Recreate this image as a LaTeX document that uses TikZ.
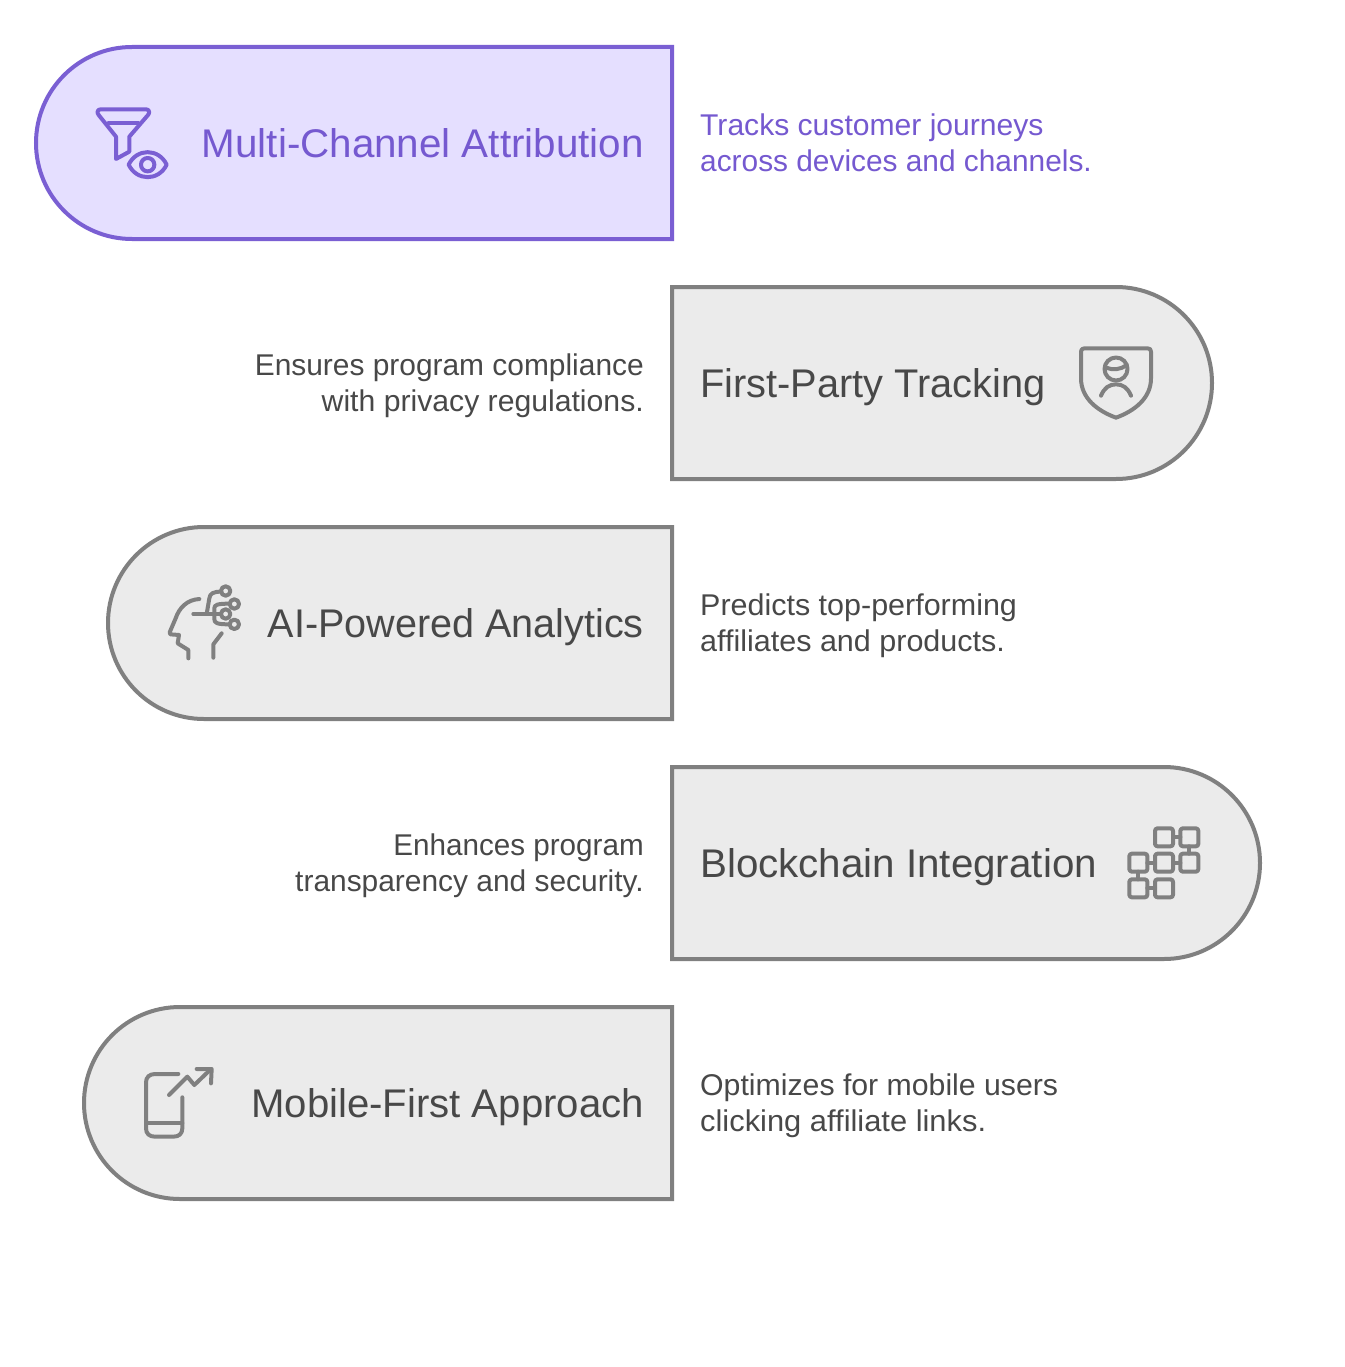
\documentclass[tikz,border=0pt]{standalone}
\usepackage{graphicx}
\usepackage{fontspec}
\setmainfont{Liberation Sans}
\newcommand{\sxx}[2]{\scalebox{#1}[1]{#2}}
\definecolor{purp}{HTML}{7A5FD3}
\definecolor{purpfill}{HTML}{E5DFFF}
\definecolor{gline}{HTML}{808080}
\definecolor{gfill}{HTML}{EBEBEB}
\definecolor{gtext}{HTML}{484848}
\definecolor{ptext}{HTML}{7559D0}
\tikzset{
  x=1pt,y=-1pt,
  pill/.style={line width=4pt,draw=gline,fill=gfill},
  pillp/.style={line width=4pt,draw=purp,fill=purpfill},
  title/.style={font=\fontsize{40}{44}\selectfont,text=gtext,inner sep=0pt},
  desc/.style={font=\fontsize{30}{36}\selectfont,text=gtext,inner sep=0pt},
  icon/.style={x=1pt/3,y=-1pt/3,line width=4pt,draw=gline,line cap=round,line join=round},
  iconp/.style={icon,draw=purp},
}
\begin{document}
\begin{tikzpicture}
\useasboundingbox (0,0) rectangle (1344,1367);
\fill[white] (0,0) rectangle (1344,1367);
% pills
\draw[pillp] (672,47) -- (132,47) arc[start angle=90,end angle=270,radius=96pt] -- (672,239) -- cycle;
\draw[pill] (672,287) -- (1116,287) arc[start angle=90,end angle=-90,radius=96pt] -- (672,479) -- cycle;
\draw[pill] (672,527) -- (204,527) arc[start angle=90,end angle=270,radius=96pt] -- (672,719) -- cycle;
\draw[pill] (672,767) -- (1164,767) arc[start angle=90,end angle=-90,radius=96pt] -- (672,959) -- cycle;
\draw[pill] (672,1007) -- (180,1007) arc[start angle=90,end angle=270,radius=96pt] -- (672,1199) -- cycle;
% titles
\node[title,anchor=base east,text=ptext] (t1) at (644,157.5) {\sxx{1.009}{Multi-Channel Attribution}};
\node[title,anchor=base west] (t2) at (700,397.5) {\sxx{.994}{First-Party Tracking}};
\node[title,anchor=base east] (t3) at (644,637.5) {\sxx{.989}{AI-Powered Analytics}};
\node[title,anchor=base west] (t4) at (700,877.5) {\sxx{1.008}{Blockchain Integration}};
\node[title,anchor=base east] (t5) at (644,1117.5) {\sxx{1.003}{Mobile-First Approach}};
% descriptions
\node[desc,anchor=west,align=left,text=ptext] (d1) at (700,143) {\sxx{1.003}{Tracks customer journeys}\\\sxx{.995}{across devices and channels.}};
\node[desc,anchor=east,align=right] (d2) at (644,386) {\sxx{.997}{Ensures program compliance}\\\sxx{1.006}{with privacy regulations.}};
\node[desc,anchor=west,align=left] (d3) at (700,626) {\sxx{1.016}{Predicts top-performing}\\\sxx{1.017}{affiliates and products.}};
\node[desc,anchor=east,align=right] (d4) at (644,866) {\sxx{.988}{Enhances program}\\\sxx{.997}{transparency and security.}};
\node[desc,anchor=west,align=left] (d5) at (700,1106) {\sxx{1.008}{Optimizes for mobile users}\\\sxx{1.029}{clicking affiliate links.}};
% funnel + eye
\begin{scope}[shift={(80,90)},iconp]
\draw[iconp] (62,58) -- (198,58) .. controls (208,58) and (210,68) .. (204,75) -- (148,140) -- (148,185) -- (108,207) -- (108,140) -- (56,75) .. controls (50,68) and (52,58) .. (62,58) -- cycle;
\draw[iconp] (85,100) -- (175,100);
\draw[iconp] (146,224) .. controls (170,174) and (236,174) .. (260,224) .. controls (236,274) and (170,274) .. (146,224) -- cycle;
\draw[iconp] (203,224) circle[radius=6.7pt];
\end{scope}
% shield
\begin{scope}[shift={(1066,335)},icon]
\draw[icon] (55,40) -- (245,40) .. controls (252,40) and (255,44) .. (255,50) -- (255,130) .. controls (255,190) and (205,228) .. (150,248) .. controls (95,228) and (45,190) .. (45,130) -- (45,50) .. controls (45,44) and (48,40) .. (55,40) -- cycle;
\draw[icon] (150,102) circle[radius=11.5pt];
\draw[icon] (120,98) .. controls (140,106) and (165,104) .. (182,90);
\draw[icon] (105,182) .. controls (115,158) and (130,148) .. (150,148) .. controls (170,148) and (185,158) .. (195,182);
\end{scope}
% head
\begin{scope}[shift={(155,575)},icon]
\draw[icon] (133,72) .. controls (95,74) and (72,100) .. (62,130) -- (44,172) -- (46,178) -- (72,180) -- (68,205) -- (100,225) -- (100,250);
\draw[icon] (175,248) -- (175,208) -- (200,175);
\draw[icon] (115,117) -- (198,117);
\draw[icon] (155,117) -- (163,70) .. controls (165,55) and (175,50) .. (199,50);
\draw[icon] (178,117) -- (178,100) .. controls (178,90) and (185,86) .. (224,86);
\draw[icon] (178,117) -- (178,132) .. controls (178,144) and (185,148) .. (224,148);
\draw[icon] (212,48) circle[radius=4.7pt];
\draw[icon] (238,87) circle[radius=4.7pt];
\draw[icon] (212,117) circle[radius=4.7pt];
\draw[icon] (238,148) circle[radius=4.7pt];
\end{scope}
% blockchain
\begin{scope}[shift={(1115,815)},icon]
\foreach \cx/\cy in {147/67,223/67,70/143,147/143,223/143,70/220,147/220}{
  \draw[icon,rounded corners=2.5pt] (\cx-27,\cy-27) rectangle (\cx+27,\cy+27);
}
\draw[icon] (174,67) -- (196,67);
\draw[icon] (223,94) -- (223,116);
\draw[icon] (97,143) -- (120,143);
\draw[icon] (174,143) -- (196,143);
\draw[icon] (70,170) -- (70,193);
\draw[icon] (97,220) -- (120,220);
\end{scope}
% phone
\begin{scope}[shift={(130,1055)},icon]
\draw[icon] (145,57) -- (75,57) .. controls (58,57) and (48,67) .. (48,82) -- (48,220) .. controls (48,236) and (58,245) .. (75,245) -- (130,245) .. controls (147,245) and (157,236) .. (157,220) -- (157,127);
\draw[icon] (48,205) -- (157,205);
\draw[icon] (117,120) -- (172,65) -- (193,90) -- (243,42);
\draw[icon] (200,42) -- (245,42) -- (243,85);
\end{scope}
\end{tikzpicture}
\end{document}
